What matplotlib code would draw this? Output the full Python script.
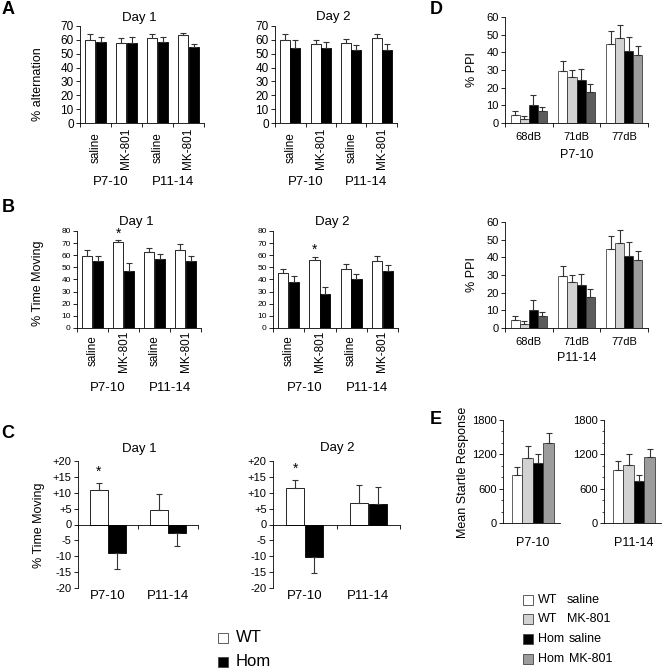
import numpy as np
import matplotlib
matplotlib.use("Agg")
import matplotlib.pyplot as plt
from matplotlib.patches import Rectangle

plt.rcParams['font.family'] = ['Liberation Sans', 'DejaVu Sans']

# ---- data ----
treat = ["saline", "MK-801", "saline", "MK-801"]
ages = ["P7-10", "P11-14"]

# A: % alternation
a1_wt = [60, 58, 61.6, 63.5]
a1_wt_se = [4.3, 3.0, 2.7, 1.2]
a1_hom = [58.8, 57.5, 58.5, 55]
a1_hom_se = [3.6, 4.5, 3.9, 2.0]
a2_wt = [60, 57, 58, 61]
a2_wt_se = [4.0, 3.0, 2.4, 3.0]
a2_hom = [54.4, 54.4, 53, 53]
a2_hom_se = [5.3, 4.3, 3.6, 4.0]

# B: % time moving
b1_wt = [59, 71, 62.5, 64]
b1_wt_se = [5.0, 1.3, 3.2, 5.0]
b1_hom = [55.3, 46.6, 57, 55.3]
b1_hom_se = [4.4, 7.4, 4.4, 4.4]
b2_wt = [45, 56.4, 48.5, 55.6]
b2_wt_se = [3.5, 2.2, 4.1, 4.1]
b2_hom = [38, 28.2, 40.8, 47]
b2_hom_se = [4.5, 5.5, 3.6, 5.3]

# C: change in % time moving
c1_wt = [11.0, 4.6]
c1_wt_se = [2.0, 5.1]
c1_hom = [-9.1, -2.6]
c1_hom_se = [4.9, 4.2]
c2_wt = [11.6, 6.7]
c2_wt_se = [2.3, 5.7]
c2_hom = [-10.1, 6.4]
c2_hom_se = [5.2, 5.4]

# D: % PPI
db = ["68dB", "71dB", "77dB"]
d_wt_sal = [4.3, 29.4, 44.8]
d_wt_sal_se = [2.3, 5.6, 7.3]
d_wt_mk = [2.4, 26.0, 48.2]
d_wt_mk_se = [1.4, 3.8, 7.1]
d_hom_sal = [10.3, 24.2, 40.7]
d_hom_sal_se = [5.3, 6.2, 8.0]
d_hom_mk = [6.9, 17.3, 38.4]
d_hom_mk_se = [2.3, 4.8, 5.1]

# E: mean startle response (WT sal, WT MK, Hom sal, Hom MK)
e_p7 = [842, 1144, 1045, 1405]
e_p7_se = [139, 203, 163, 163]
e_p11 = [918, 1010, 732, 1156]
e_p11_se = [174, 192, 104, 139]

groups4 = ["WT   saline", "WT   MK-801", "Hom  saline", "Hom   MK-801"]
col4 = ["white", "#d2d2d2", "black", "#9c9c9c"]

W, H = 662, 669
fig = plt.figure(figsize=(W / 100, H / 100), dpi=100)


def px_axes(l, t, r, b):
    ax = fig.add_axes([l / W, 1 - b / H, (r - l) / W, (b - t) / H])
    ax.spines['top'].set_visible(False)
    ax.spines['right'].set_visible(False)
    for s in ax.spines.values():
        s.set_linewidth(0.6)
    ax.tick_params(width=0.6, length=3, pad=1.5)
    return ax


def ftext(x, y, s, **kw):
    kw.setdefault('ha', 'center')
    kw.setdefault('va', 'center')
    fig.text(x / W, 1 - y / H, s, **kw)


def ebar(ax, x, y, se, up=True):
    y = np.asarray(y, float)
    se = np.asarray(se, float)
    if up:
        yerr = [np.zeros_like(se), se]
    else:
        yerr = [se, np.zeros_like(se)]
    ax.errorbar(x, y, yerr=yerr, fmt='none', ecolor='#333333',
                elinewidth=0.8, capsize=2, capthick=0.8)


def paired(box, wt, wt_se, hom, hom_se, ymax, fs, title, ty, lab_y, grp_y):
    l, t, r, b = box
    ax = px_axes(l, t, r, b)
    x = np.arange(4) + 0.5
    ax.bar(x - 0.17, wt, 0.33, color='white', edgecolor='black', lw=0.6)
    ax.bar(x + 0.17, hom, 0.33, color='black', edgecolor='black', lw=0.6)
    ebar(ax, x - 0.17, wt, wt_se)
    ebar(ax, x + 0.17, hom, hom_se)
    ax.set_xlim(0, 4)
    ax.set_ylim(0, ymax)
    ax.set_yticks(np.arange(0, ymax + 1, 10))
    ax.tick_params(axis='y', labelsize=fs)
    ax.set_xticks(np.arange(5))
    ax.set_xticklabels([])
    gw = (r - l) / 4
    for i, s in enumerate(treat):
        ftext(l + (i + 0.5) * gw, lab_y, s, rotation=90, fontsize=8.5)
    ftext(l + gw, grp_y, ages[0], fontsize=9.5)
    ftext(l + 3 * gw, grp_y, ages[1], fontsize=9.5)
    ftext((l + r) / 2 - 3, ty, title, fontsize=9.5)
    return ax


# ---- A ----
paired((80, 26, 204, 123), a1_wt, a1_wt_se, a1_hom, a1_hom_se, 70, 8.5,
       "Day 1", 18, 148, 182)
paired((275, 26, 397, 123), a2_wt, a2_wt_se, a2_hom, a2_hom_se, 70, 8.5,
       "Day 2", 17, 148, 182)
ftext(38, 84, "% alternation", rotation=90, fontsize=9)

# ---- B ----
bx1 = paired((77, 231, 201, 328), b1_wt, b1_wt_se, b1_hom, b1_hom_se, 80, 6,
             "Day 1", 222, 351, 388)
bx2 = paired((273, 231, 398, 328), b2_wt, b2_wt_se, b2_hom, b2_hom_se, 80, 6,
             "Day 2", 222, 351, 388)
bx1.text(1.33, b1_wt[1] + b1_wt_se[1], "*", ha='center', va='bottom', fontsize=10)
bx2.text(1.33, b2_wt[1] + b2_wt_se[1], "*", ha='center', va='bottom', fontsize=10)
ftext(38, 283, "% Time Moving", rotation=90, fontsize=9)


# ---- C ----
def change(box, wt, wt_se, hom, hom_se, title, ty):
    l, t, r, b = box
    ax = px_axes(l, t, r, b)
    x = np.arange(2) + 0.5
    ax.bar(x - 0.15, wt, 0.29, color='white', edgecolor='black', lw=0.6)
    ax.bar(x + 0.15, hom, 0.29, color='black', edgecolor='black', lw=0.6)
    for xi, v, s in zip(x - 0.15, wt, wt_se):
        ebar(ax, [xi], [v], [s], up=v >= 0)
    for xi, v, s in zip(x + 0.15, hom, hom_se):
        ebar(ax, [xi], [v], [s], up=v >= 0)
    ax.set_xlim(0, 2)
    ax.set_ylim(-20, 20)
    ticks = np.arange(-20, 21, 5)
    ax.set_yticks(ticks)
    ax.set_yticklabels([("+%d" % v) if v > 0 else str(v) for v in ticks])
    ax.tick_params(axis='y', labelsize=8)
    ax.spines['bottom'].set_position(('data', 0))
    ax.set_xticks([0, 1, 2])
    ax.set_xticklabels([])
    gw = (r - l) / 2
    ftext(l + 0.5 * gw, 596, ages[0], fontsize=9.5)
    ftext(l + 1.5 * gw, 596, ages[1], fontsize=9.5)
    ftext((l + r) / 2 + 1, ty, title, fontsize=9.5)
    ax.text(0.35, wt[0] + wt_se[0] + 1.5, "*", ha='center', va='bottom', fontsize=10)
    return ax


change((78, 461, 198, 588), c1_wt, c1_wt_se, c1_hom, c1_hom_se, "Day 1", 449)
change((273, 461, 400, 588), c2_wt, c2_wt_se, c2_hom, c2_hom_se, "Day 2", 448)
ftext(39, 525, "% Time Moving", rotation=90, fontsize=9)


# ---- D ----
def ppi(box, age, age_y):
    l, t, r, b = box
    ax = px_axes(l, t, r, b)
    x = np.arange(3) + 0.5
    w = 0.19
    series = [(d_wt_sal, d_wt_sal_se, ["white"] * 3),
              (d_wt_mk, d_wt_mk_se, ["#d2d2d2"] * 3),
              (d_hom_sal, d_hom_sal_se, ["black"] * 3),
              (d_hom_mk, d_hom_mk_se, ["#5c5c5c", "#5c5c5c", "#9c9c9c"])]
    for k, (v, se, cols) in enumerate(series):
        xs = x + (k - 1.5) * w
        ax.bar(xs, v, w, color=cols, edgecolor='#222222', lw=0.5)
        ebar(ax, xs, v, se)
    ax.set_xlim(0, 3)
    ax.set_ylim(0, 60)
    ax.set_yticks(np.arange(0, 61, 10))
    ax.tick_params(axis='y', labelsize=8)
    ax.set_xticks([0, 1, 2, 3])
    ax.set_xticklabels([])
    gw = (r - l) / 3
    for i, s in enumerate(db):
        ftext(l + (i + 0.5) * gw, b + 14, s, fontsize=8)
    ftext((l + r) / 2, age_y, age, fontsize=9)
    ftext(472, (t + b) / 2, "% PPI", rotation=90, fontsize=9)
    return ax


ppi((505, 17, 648, 123), ages[0], 155)
ppi((505, 222, 648, 328), ages[1], 358)


# ---- E ----
def startle(box, vals, se, age):
    l, t, r, b = box
    ax = px_axes(l, t, r, b)
    x = np.arange(4)
    ax.bar(x, vals, 1.0, color=col4, edgecolor='#222222', lw=0.5)
    ebar(ax, x, vals, se)
    ax.set_xlim(-1.36, 4.1)
    ax.set_ylim(0, 1800)
    ax.set_yticks([0, 600, 1200, 1800])
    ax.set_yticks(np.arange(0, 1801, 200), minor=True)
    ax.tick_params(axis='y', which='minor', length=1.5, width=0.5)
    ax.tick_params(axis='y', labelsize=8)
    ax.set_xticks([])
    ftext(l + 30, 543, age, fontsize=9)
    return ax


startle((503, 420, 560, 523), e_p7, e_p7_se, ages[0])
startle((604, 420, 661, 523), e_p11, e_p11_se, ages[1])
ftext(463, 472, "Mean Startle Response", rotation=90, fontsize=9)

# ---- legends ----
for i, (lab, c) in enumerate(zip(["WT", "Hom"], ["white", "black"])):
    y = 638 + 24 * i
    fig.patches.append(Rectangle((218 / W, 1 - (y + 5) / H), 10 / W, 10 / H,
                                 transform=fig.transFigure, facecolor=c,
                                 edgecolor='#444444', lw=0.6))
    ftext(236, y, lab, ha='left', fontsize=12)

for i, c in enumerate(col4):
    y = [600, 619, 639, 659][i]
    fig.patches.append(Rectangle((523 / W, 1 - (y + 5) / H), 10 / W, 10 / H,
                                 transform=fig.transFigure, facecolor=c,
                                 edgecolor='#444444', lw=0.6))
    g, t = groups4[i].split()
    ftext(538, y, g, ha='left', fontsize=9)
    ftext(567 if g == "WT" else 569, y, t, ha='left', fontsize=9)

# ---- panel letters ----
for s, x, y in [("A", 8, 10), ("B", 8, 208), ("C", 8, 434), ("D", 436, 10), ("E", 436, 419)]:
    ftext(x, y, s, fontsize=13, fontweight='bold')

fig.savefig("out.png", dpi=100)
